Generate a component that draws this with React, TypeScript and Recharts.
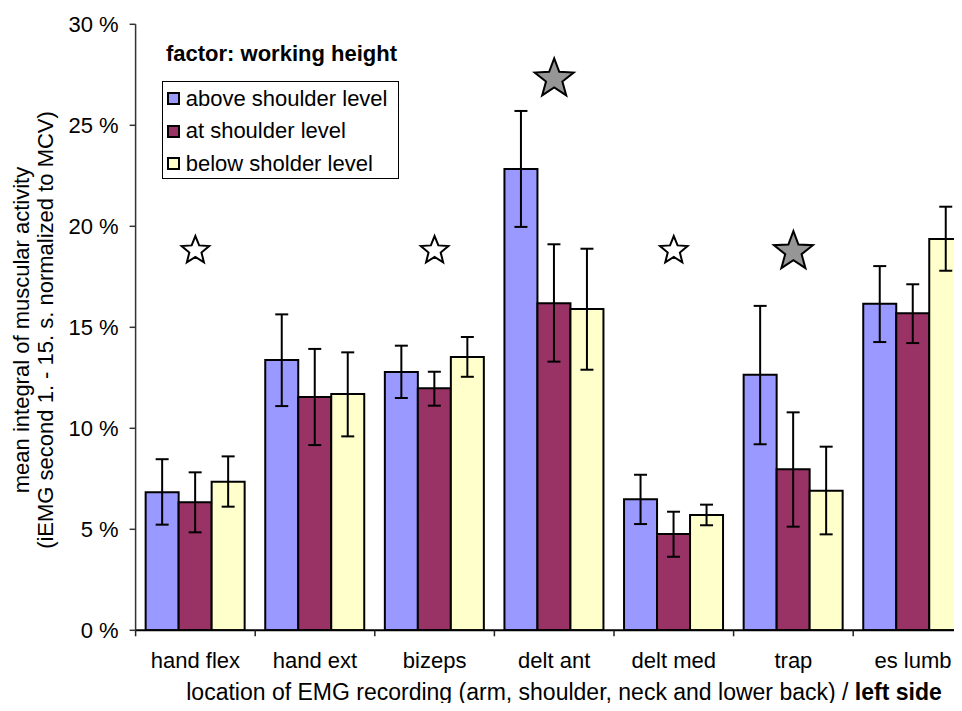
import React from "react"
import { Bar, ComposedChart, ErrorBar, Label, Legend, Scatter, XAxis, YAxis } from "recharts"

const CATEGORIES = ["hand flex", "hand ext", "bizeps", "delt ant", "delt med", "trap", "es lumb"]

const ABOVE = [6.83, 13.38, 12.79, 22.84, 6.49, 12.65, 16.16]
const AT = [6.34, 11.55, 11.98, 16.19, 4.77, 7.97, 15.69]
const BELOW = [7.36, 11.7, 13.53, 15.9, 5.71, 6.91, 19.37]

const ABOVE_LOW = [5.23, 11.1, 11.5, 19.97, 5.26, 9.21, 14.27]
const ABOVE_HIGH = [8.47, 15.64, 14.09, 25.71, 7.7, 16.06, 18.03]
const AT_LOW = [4.85, 9.17, 11.12, 13.3, 3.64, 5.13, 14.22]
const AT_HIGH = [7.82, 13.93, 12.8, 19.11, 5.87, 10.79, 17.13]
const BELOW_LOW = [6.12, 9.6, 12.55, 12.9, 5.2, 4.75, 17.8]
const BELOW_HIGH = [8.61, 13.76, 14.52, 18.89, 6.22, 9.09, 20.97]

// significance markers
const OPEN_STARS = [18.8, null, 18.8, null, 18.8, null, null]
const GRAY_STARS = [null, null, null, 27.3, null, 18.75, null]

const Y_TICKS = [0, 5, 10, 15, 20, 25, 30]

const SERIES = [
  { key: "above", name: "above shoulder level", color: "#9999FF" },
  { key: "at", name: "at shoulder level", color: "#993366" },
  { key: "below", name: "below sholder level", color: "#FFFFCC" },
]

const data = CATEGORIES.map((name, i) => ({
  name,
  above: ABOVE[i],
  at: AT[i],
  below: BELOW[i],
  aboveErr: [ABOVE[i] - ABOVE_LOW[i], ABOVE_HIGH[i] - ABOVE[i]],
  atErr: [AT[i] - AT_LOW[i], AT_HIGH[i] - AT[i]],
  belowErr: [BELOW[i] - BELOW_LOW[i], BELOW_HIGH[i] - BELOW[i]],
  openStar: OPEN_STARS[i],
  grayStar: GRAY_STARS[i],
}))

const FONT = "'Liberation Sans', Arial, sans-serif"
const FS = 22

const CHART_W = 980
const CHART_H = 711
const PLOT_LEFT = 135.6
const PLOT_TOP = 24.3
const PLOT_W = 837.2
const AXIS_Y = 630.3
const BAND = PLOT_W / CATEGORIES.length

function starPath(cx: number, cy: number, r: number, inner: number) {
  let d = ""
  for (let k = 0; k < 10; k++) {
    const rad = k % 2 === 0 ? r : r * inner
    const a = -Math.PI / 2 + (k * Math.PI) / 5
    d += (k === 0 ? "M" : "L") + (cx + rad * Math.cos(a)).toFixed(2) + "," + (cy + rad * Math.sin(a)).toFixed(2)
  }
  return d + "Z"
}

const OpenStar = (props: any) => {
  if (props.payload?.openStar == null) return <g />
  return <path d={starPath(props.cx, props.cy, 14.5, 0.44)} fill="#fff" stroke="#000" strokeWidth={2} />
}

const GrayStar = (props: any) => {
  if (props.payload?.grayStar == null) return <g />
  return <path d={starPath(props.cx, props.cy, 20.5, 0.42)} fill="#969696" stroke="#000" strokeWidth={2} />
}

const CategoryTick = (props: any) => {
  const { x, payload } = props
  return (
    <g>
      <line x1={x - BAND / 2} x2={x - BAND / 2} y1={AXIS_Y} y2={AXIS_Y + 6} stroke="#222" strokeWidth={1.5} />
      <text x={x} y={AXIS_Y + 38} textAnchor="middle" fill="#000" fontSize={FS} fontFamily={FONT}>
        {payload.value}
      </text>
    </g>
  )
}

const XTitle = () => (
  <text x={564} y={700} textAnchor="middle" fill="#000" fontSize={23} fontFamily={FONT}>
    location of EMG recording (arm, shoulder, neck and lower back) / <tspan fontWeight="bold">left side</tspan>
  </text>
)

const YTitle = () => (
  <g fontSize={FS} fontFamily={FONT} fill="#000">
    <text transform="translate(21,330) rotate(-90)" textAnchor="middle" dominantBaseline="central">
      mean integral of muscular activity
    </text>
    <text transform="translate(45,330) rotate(-90)" textAnchor="middle" dominantBaseline="central">
      (iEMG second 1. - 15. s. normalized to MCV)
    </text>
  </g>
)

const LegendBox = () => (
  <div style={{ position: "relative", width: 962, height: 200, fontFamily: FONT, fontSize: FS, lineHeight: 1, color: "#000" }}>
    <div style={{ position: "absolute", left: 166, top: 43, fontWeight: "bold", whiteSpace: "nowrap" }}>
      factor: working height
    </div>
    <div
      style={{
        position: "absolute",
        left: 161.7,
        top: 80.7,
        width: 237.6,
        height: 98.3,
        boxSizing: "border-box",
        border: "1.5px solid #000",
        background: "#fff",
      }}
    >
      {SERIES.map((s, i) => (
        <div key={s.key} style={{ position: "absolute", left: 4, top: 6 + i * 32.6, display: "flex", alignItems: "center", whiteSpace: "nowrap" }}>
          <span
            style={{
              display: "inline-block",
              width: 13,
              height: 13,
              boxSizing: "border-box",
              border: "2px solid #000",
              background: s.color,
              marginRight: 6,
            }}
          />
          <span>{s.name}</span>
        </div>
      ))}
    </div>
  </div>
)

export default function App() {
  return (
    <div style={{ margin: -8, width: 962, height: 711, overflow: "hidden", position: "relative", background: "#fff" }}>
      <ComposedChart
        width={CHART_W}
        height={CHART_H}
        data={data}
        margin={{ top: PLOT_TOP, right: CHART_W - PLOT_LEFT - PLOT_W, left: 0, bottom: 0 }}
        barCategoryGap="8.4%"
        barGap={0}
      >
        <XAxis
          dataKey="name"
          height={CHART_H - AXIS_Y}
          axisLine={{ stroke: "#000", strokeWidth: 2 }}
          tickLine={false}
          tick={<CategoryTick />}
          interval={0}
        >
          <Label content={<XTitle />} />
        </XAxis>
        <YAxis
          width={PLOT_LEFT}
          domain={[0, 30]}
          ticks={Y_TICKS}
          tickFormatter={(v) => `${v} %`}
          axisLine={{ stroke: "#333", strokeWidth: 1.5 }}
          tickLine={{ stroke: "#333", strokeWidth: 1.5 }}
          tickSize={6}
          tickMargin={11}
          tick={{ fill: "#000", fontSize: FS, fontFamily: FONT }}
          allowDataOverflow
        >
          <Label content={<YTitle />} />
        </YAxis>
        <Legend
          verticalAlign="middle"
          layout="horizontal"
          content={<LegendBox />}
          wrapperStyle={{ position: "absolute", left: 0, top: 0, width: 962, height: 200 }}
        />
        {SERIES.map((s) => (
          <Bar key={s.key} dataKey={s.key} name={s.name} fill={s.color} stroke="#000" strokeWidth={2} isAnimationActive={false}>
            <ErrorBar dataKey={`${s.key}Err`} width={6.5} stroke="#000" strokeWidth={2} />
          </Bar>
        ))}
        <Scatter dataKey="openStar" shape={<OpenStar />} isAnimationActive={false} legendType="none" />
        <Scatter dataKey="grayStar" shape={<GrayStar />} isAnimationActive={false} legendType="none" />
      </ComposedChart>
    </div>
  )
}
